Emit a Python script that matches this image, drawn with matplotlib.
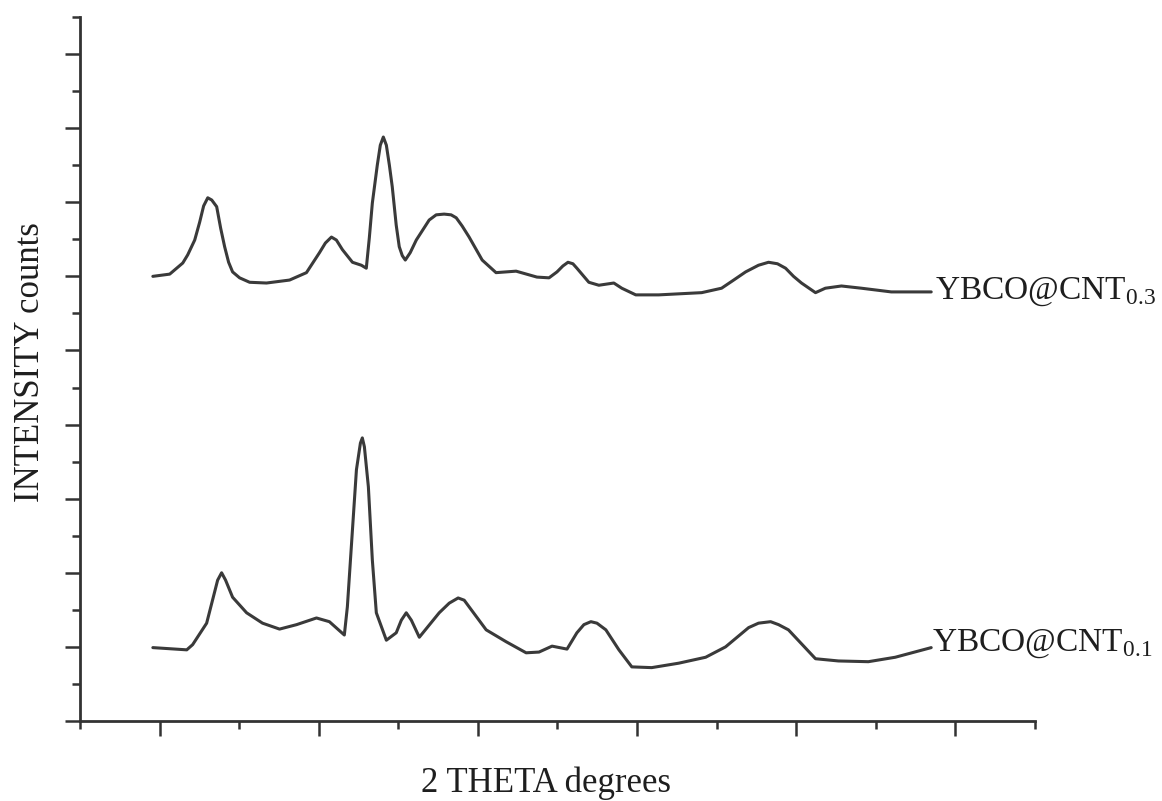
import matplotlib.pyplot as plt
from matplotlib.ticker import MultipleLocator, NullFormatter

# ----- data (2 theta in degrees, intensity in arbitrary counts) -----
theta_cnt03 = [9.58, 10.64, 11.46, 11.77, 12.21, 12.52, 12.77, 13.03, 13.28, 13.59, 13.84,
               14.09, 14.34, 14.59, 15.03, 15.66, 16.72, 18.17, 19.23, 20.05, 20.42, 20.80,
               21.11, 21.49, 22.12, 22.68, 22.99, 23.18, 23.37, 23.68, 23.87, 24.06, 24.25,
               24.44, 24.62, 24.87, 25.06, 25.25, 25.44, 25.75, 26.13, 26.94, 27.38, 27.88,
               28.32, 28.64, 29.01, 29.45, 30.27, 31.14, 32.40, 33.71, 34.47, 34.97, 35.34,
               35.66, 35.97, 36.22, 36.97, 37.60, 38.54, 39.04, 39.92, 41.36, 44.06, 45.31,
               46.07, 46.82, 47.63, 48.26, 48.82, 49.33, 49.83, 50.33, 51.21, 51.83, 52.84,
               54.09, 55.97, 58.48]
counts_cnt03 = [6.00, 6.03, 6.18, 6.29, 6.49, 6.73, 6.95, 7.06, 7.03, 6.94, 6.65,
                6.40, 6.19, 6.06, 5.98, 5.92, 5.91, 5.95, 6.05, 6.32, 6.45, 6.53,
                6.49, 6.36, 6.19, 6.15, 6.11, 6.52, 6.99, 7.50, 7.77, 7.88, 7.77,
                7.50, 7.21, 6.69, 6.40, 6.28, 6.22, 6.32, 6.49, 6.76, 6.83, 6.84,
                6.83, 6.79, 6.68, 6.53, 6.22, 6.05, 6.07, 5.99, 5.98, 6.06, 6.14,
                6.19, 6.17, 6.11, 5.92, 5.88, 5.91, 5.84, 5.75, 5.75, 5.78, 5.84,
                5.95, 6.06, 6.15, 6.19, 6.17, 6.11, 6.00, 5.91, 5.78, 5.84, 5.87,
                5.84, 5.79, 5.79]

theta_cnt01 = [9.58, 11.71, 12.08, 12.96, 13.46, 13.65, 13.90, 14.15, 14.59, 15.47, 16.47,
               17.54, 18.61, 19.86, 20.67, 21.61, 21.80, 22.12, 22.37, 22.62, 22.74, 22.87,
               23.12, 23.37, 23.62, 24.25, 24.87, 25.19, 25.50, 25.82, 26.32, 27.57, 28.20,
               28.76, 29.14, 29.45, 30.52, 31.77, 33.03, 33.84, 34.66, 35.60, 36.22, 36.66,
               37.10, 37.48, 38.04, 38.86, 39.67, 40.92, 42.62, 44.31, 45.56, 47.01, 47.63,
               48.39, 48.89, 49.51, 51.21, 52.65, 54.53, 56.22, 58.48]
counts_cnt01 = [0.99, 0.96, 1.03, 1.32, 1.74, 1.90, 2.00, 1.90, 1.67, 1.46, 1.32,
                1.24, 1.30, 1.39, 1.34, 1.16, 1.54, 2.58, 3.39, 3.75, 3.82, 3.70,
                3.16, 2.17, 1.46, 1.09, 1.19, 1.36, 1.46, 1.36, 1.13, 1.46, 1.59,
                1.66, 1.63, 1.54, 1.23, 1.07, 0.92, 0.93, 1.01, 0.97, 1.19, 1.30,
                1.34, 1.32, 1.23, 0.96, 0.73, 0.72, 0.78, 0.86, 1.00, 1.26, 1.32,
                1.34, 1.30, 1.23, 0.84, 0.81, 0.80, 0.86, 0.99]

line_color = '#3a3a3a'
text_color = '#1e1e1e'

fig = plt.figure(figsize=(11.62, 8.01), dpi=100)
ax = fig.add_axes([0.0688, 0.0999, 0.8219, 0.8789])

ax.plot(theta_cnt03, counts_cnt03, color=line_color, lw=2.2,
        solid_joinstyle='round', solid_capstyle='round')
ax.plot(theta_cnt01, counts_cnt01, color=line_color, lw=2.2,
        solid_joinstyle='round', solid_capstyle='round')

ax.set_xlim(5, 65)
ax.set_ylim(0, 9.5)

# axis cosmetics: only left and bottom spines, ticks outward, no tick labels
for side in ['top', 'right']:
    ax.spines[side].set_visible(False)
for side in ['left', 'bottom']:
    ax.spines[side].set_linewidth(2.0)
    ax.spines[side].set_color('#333333')
ax.xaxis.set_major_locator(MultipleLocator(10))
ax.xaxis.set_minor_locator(MultipleLocator(5))
ax.yaxis.set_major_locator(MultipleLocator(1))
ax.yaxis.set_minor_locator(MultipleLocator(0.5))
ax.xaxis.set_major_formatter(NullFormatter())
ax.yaxis.set_major_formatter(NullFormatter())
ax.tick_params(which='major', direction='out', length=11, width=1.8, color='#333333')
ax.tick_params(which='minor', direction='out', length=6, width=1.8, color='#333333')

serif = ['Liberation Serif', 'DejaVu Serif']
ax.set_xlabel('2 THETA degrees', fontsize=25, family=serif, color=text_color, va='baseline')
ax.xaxis.set_label_coords(0.488, -0.101)
ax.set_ylabel('INTENSITY counts', fontsize=25, family=serif, color=text_color)
ax.yaxis.set_label_coords(-0.034, 0.51)

# curve labels
ax.text(58.7, 5.79, r'YBCO@CNT$_{\mathregular{0.3}}$', fontsize=24, family=serif,
        color=text_color, va='center', ha='left', clip_on=False)
ax.text(58.5, 1.04, r'YBCO@CNT$_{\mathregular{0.1}}$', fontsize=24, family=serif,
        color=text_color, va='center', ha='left', clip_on=False)

fig.savefig('out.png', dpi=100)
